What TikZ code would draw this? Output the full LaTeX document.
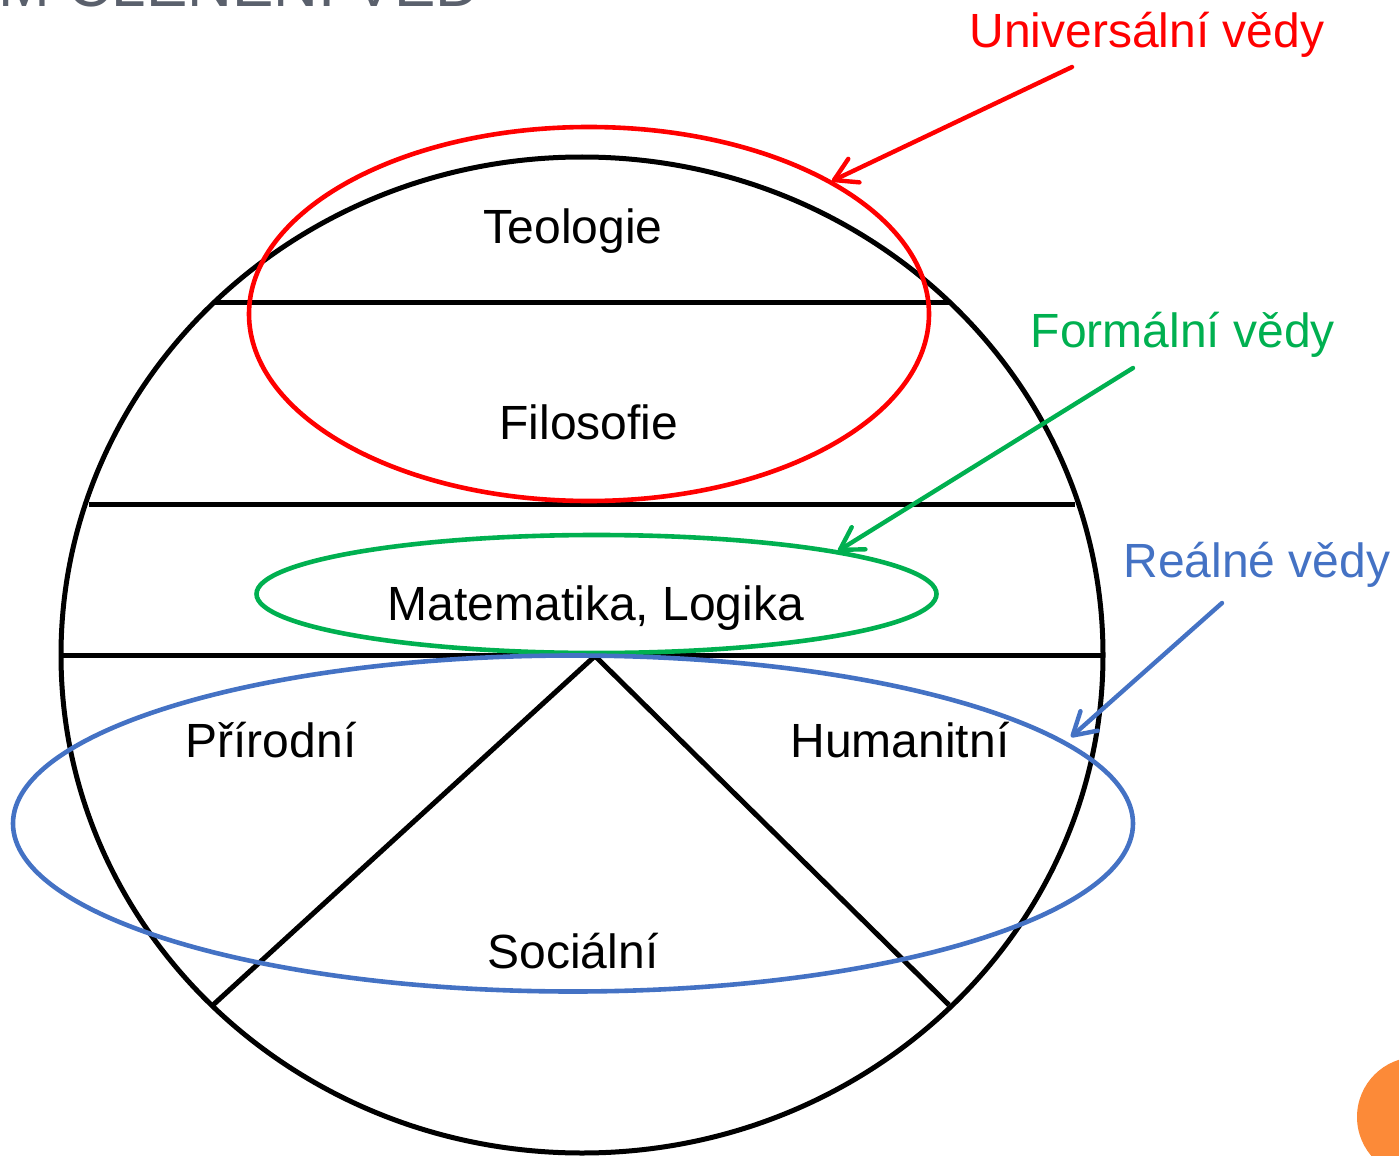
\documentclass[tikz,border=0pt]{standalone}
\usepackage{fontspec}
\setmainfont{Liberation Sans}
\usetikzlibrary{arrows.meta}
\definecolor{ured}{HTML}{FF0000}
\definecolor{fgreen}{HTML}{00B050}
\definecolor{rblue}{HTML}{4472C4}
\definecolor{tgray}{HTML}{5A606C}
\definecolor{dorange}{HTML}{FC8A38}
\tikzset{
  blk/.style={draw=black,line width=2.5pt},
  ring/.style={line width=2.3pt},
  lbl/.style={anchor=base,inner sep=0pt,font=\fontsize{24pt}{28pt}\selectfont},
  pointer/.style={line width=2.2pt,line cap=round,-{Straight Barb[length=11pt,width=13pt,line cap=round,line join=round]}}
}
\begin{document}
\begin{tikzpicture}[x=0.5pt,y=-0.5pt]
\useasboundingbox (0,0) rectangle (1399,1156);
\clip (0,0) rectangle (1399,1156);
% title (cut off at the top edge, as in the reference)
\node[anchor=base east,inner sep=0pt,text=tgray,font=\fontsize{31pt}{35pt}\selectfont] (title) at (481,7) {SYSTÉM ČLENĚNÍ VĚD};
% orange decoration
\fill[dorange] (1417,1117) circle (60);
% big sphere
\draw[blk] (582,655) ellipse [x radius=521,y radius=498];
\coordinate (h1l) at (214,302); \coordinate (h1r) at (950,302);
\coordinate (h2l) at (89,504); \coordinate (h2r) at (1075,504);
\coordinate (h3l) at (61,655); \coordinate (h3r) at (1103,655);
\coordinate (apex) at (595,656);
\coordinate (dl) at (213,1005); \coordinate (dr) at (949,1005);
\draw[blk] (h1l) -- (h1r);
\draw[blk] (h2l) -- (h2r);
\draw[blk] (h3l) -- (h3r);
\draw[blk,line join=miter] (dl) -- (apex) -- (dr);
% labels
\node[lbl] (teo) at (573,243) {Teologie};
\node[lbl] (fil) at (589,439) {Filosofie};
\node[lbl] (mat) at (596,620) {Matematika, Logika};
\node[lbl] (pri) at (271,757) {Přírodní};
\node[lbl] (hum) at (900,757) {Humanitní};
\node[lbl] (soc) at (573,968) {Sociální};
% colored ellipses
\draw[ring,ured] (589,314) ellipse [x radius=340,y radius=187];
\draw[ring,fgreen] (596.5,594) ellipse [x radius=340,y radius=59];
\draw[ring,rblue] (573,823.5) ellipse [x radius=560,y radius=168];
% category labels
\node[lbl,text=ured] (uni) at (1147,48) {Universální vědy};
\node[lbl,text=fgreen] (for) at (1183,347) {Formální vědy};
\node[lbl,text=rblue] (rea) at (1257,577) {Reálné vědy};
% arrows
\coordinate (ua) at (1072,67); \coordinate (ut) at (832,181);
\coordinate (fa) at (1133,368); \coordinate (ft) at (838,551);
\coordinate (ra) at (1222,603); \coordinate (rt) at (1071,737);
\draw[pointer,ured] (ua) -- (ut);
\draw[pointer,fgreen] (fa) -- (ft);
\draw[pointer,rblue] (ra) -- (rt);
\end{tikzpicture}
\end{document}
